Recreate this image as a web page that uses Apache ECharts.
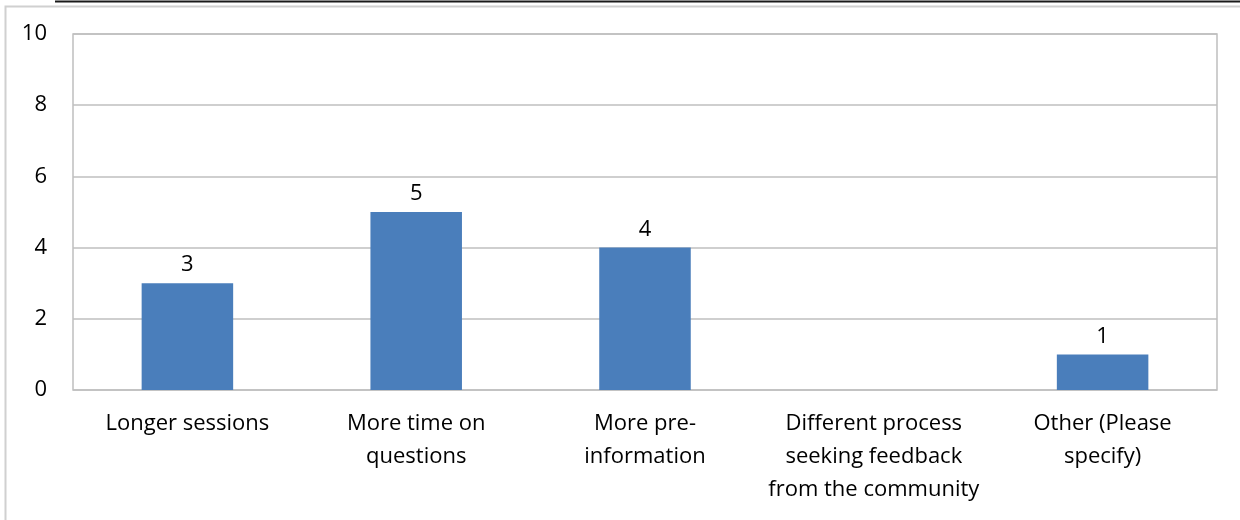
<!DOCTYPE html>
<html>
<head>
<meta charset="utf-8">
<script src="https://cdn.jsdelivr.net/npm/echarts@6/dist/echarts.min.js"></script>
<style>
  html, body { margin: 0; padding: 0; background: #ffffff; }
  #chart { width: 1240px; height: 520px; }
</style>
</head>
<body>
<div id="chart"></div>
<script>
// Survey responses: suggested changes to the process
const categories = [
  'Longer sessions',
  'More time on\nquestions',
  'More pre-\ninformation',
  'Different process\nseeking feedback\nfrom the community',
  'Other (Please\nspecify)'
];
const responses = [3, 5, 4, 0, 1];
const yTicks = { min: 0, max: 10, interval: 2 };

const FONT = '"Open Sans", "Noto Sans", sans-serif';
const TEXT = '#000000';
const SIZE = 22;

const chart = echarts.init(document.getElementById('chart'), null, { renderer: 'canvas' });

chart.setOption({
  animation: false,
  backgroundColor: '#ffffff',
  graphic: [
    // outer chart frame
    {
      type: 'rect',
      shape: { x: 5.5, y: 6.5, width: 1300, height: 600 },
      style: { fill: 'none', stroke: '#d0d0d0', lineWidth: 2 },
      silent: true
    },
    // rule above the frame
    {
      type: 'line',
      shape: { x1: 55, y1: 1.5, x2: 1240, y2: 1.5 },
      style: { stroke: '#1a1a1a', lineWidth: 2 },
      silent: true
    }
  ],
  grid: {
    left: 73,
    right: 23,
    top: 34,
    bottom: 130,
    show: true,
    borderColor: '#bfbfbf',
    borderWidth: 1.5,
    containLabel: false
  },
  xAxis: {
    type: 'category',
    data: categories,
    axisLine: { show: false },
    axisTick: { show: false },
    axisLabel: {
      color: TEXT,
      fontFamily: FONT,
      fontSize: SIZE,
      lineHeight: 33,
      margin: 17,
      interval: 0,
      verticalAlign: 'top'
    }
  },
  yAxis: {
    type: 'value',
    min: yTicks.min,
    max: yTicks.max,
    interval: yTicks.interval,
    axisLine: { show: false },
    axisTick: { show: false },
    splitLine: { show: true, lineStyle: { color: '#bfbfbf', width: 1.5 } },
    axisLabel: {
      color: TEXT,
      fontFamily: FONT,
      fontSize: SIZE,
      margin: 26
    }
  },
  series: [{
    type: 'bar',
    data: responses,
    barWidth: '40%',
    itemStyle: { color: '#4a7ebb' },
    label: {
      show: true,
      position: 'top',
      distance: 7,
      color: TEXT,
      fontFamily: FONT,
      fontSize: SIZE,
      formatter: p => (p.value === 0 ? '' : String(p.value))
    }
  }]
});
</script>
</body>
</html>
